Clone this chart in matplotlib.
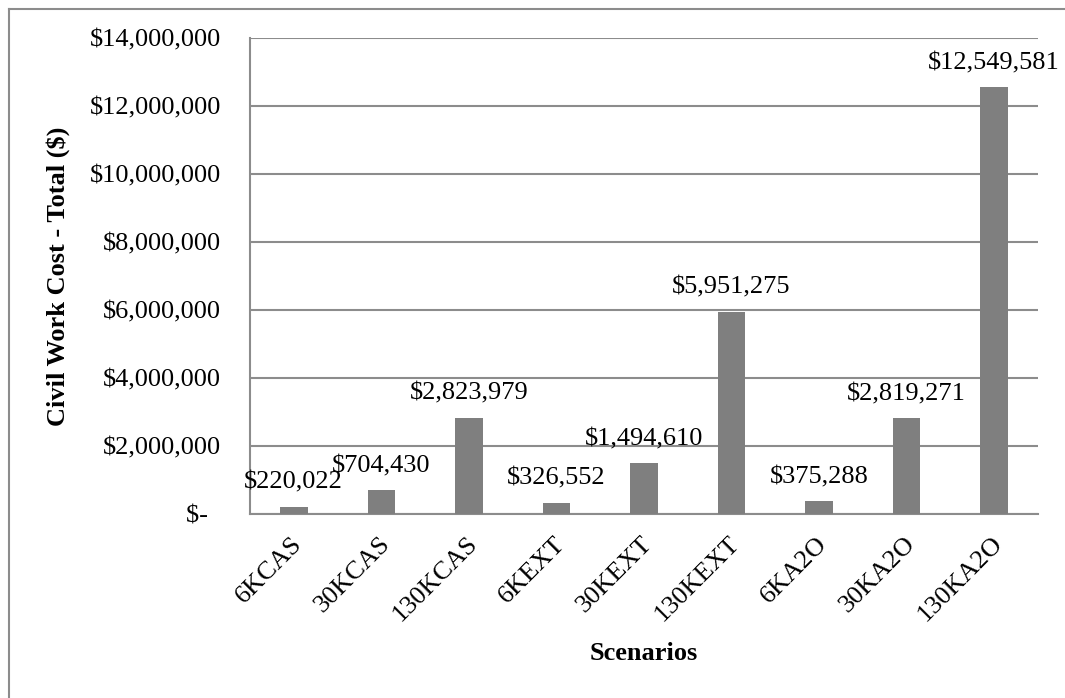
import matplotlib
matplotlib.use("Agg")
import matplotlib.pyplot as plt
import matplotlib.transforms as mtransforms
from matplotlib.ticker import FuncFormatter, MultipleLocator
from matplotlib.lines import Line2D

# scenario names and total civil work cost per scenario
scenarios = ['6KCAS', '30KCAS', '130KCAS', '6KEXT', '30KEXT', '130KEXT',
             '6KA2O', '30KA2O', '130KA2O']
civil_cost = [220022, 704430, 2823979, 326552, 1494610, 5951275,
              375288, 2819271, 12549581]

plt.rcParams['font.family'] = ['Liberation Serif', 'DejaVu Serif']
plt.rcParams['font.size'] = 19

bar_color = '#7f7f7f'
line_color = '#8c8c8c'

W, H = 1065, 698
fig = plt.figure(figsize=(W / 100, H / 100), dpi=100)
ax = fig.add_axes([250 / W, 1 - 514 / H, 788 / W, 476 / H])

x = list(range(len(scenarios)))
ax.bar(x, civil_cost, width=0.315, color=bar_color, zorder=3)

# value labels above each bar
for xi, val in zip(x, civil_cost):
    ax.annotate('${:,.0f}'.format(val), xy=(xi, val), xytext=(0, 13),
                textcoords='offset points', ha='center', va='baseline',
                fontsize=19, zorder=4)

ax.set_xlim(-0.5, len(scenarios) - 0.5)
ax.set_ylim(0, 14000000)
ax.yaxis.set_major_locator(MultipleLocator(2000000))


def money(v, pos):
    if v == 0:
        return '$-  '
    return '${:,.0f}'.format(v)


ax.yaxis.set_major_formatter(FuncFormatter(money))
ax.grid(axis='y', color=line_color, linewidth=1.5, zorder=0)
ax.tick_params(axis='y', length=0, pad=21)
ax.tick_params(axis='x', length=0, pad=19)

ax.set_xticks(x)
ax.set_xticklabels(scenarios, rotation=45, ha='right', va='center',
                   rotation_mode='anchor')
shift = mtransforms.ScaledTranslation(5 / 100, 0, fig.dpi_scale_trans)
for lbl in ax.get_xticklabels():
    lbl.set_transform(lbl.get_transform() + shift)

for side in ['top', 'right']:
    ax.spines[side].set_visible(False)
for side in ['left', 'bottom']:
    ax.spines[side].set_color(line_color)
    ax.spines[side].set_linewidth(1.5)

# axis titles
fig.text(58 / W, 1 - 276 / H, 'Civil Work Cost - Total ($)', rotation=90,
         ha='center', va='center', fontweight='bold', fontsize=19)
fig.text(644 / W, 1 - 654 / H, 'Scenarios', ha='center', va='center',
         fontweight='bold', fontsize=19)

# chart frame (left and top edges)
fx0 = 8.5 / W
fy0 = 1 - 8.5 / H
fig.add_artist(Line2D([fx0, fx0], [0, fy0], transform=fig.transFigure,
                      color=line_color, linewidth=1.5))
fig.add_artist(Line2D([fx0, 1], [fy0, fy0], transform=fig.transFigure,
                      color=line_color, linewidth=1.5))

fig.savefig('out.png', dpi=100)
